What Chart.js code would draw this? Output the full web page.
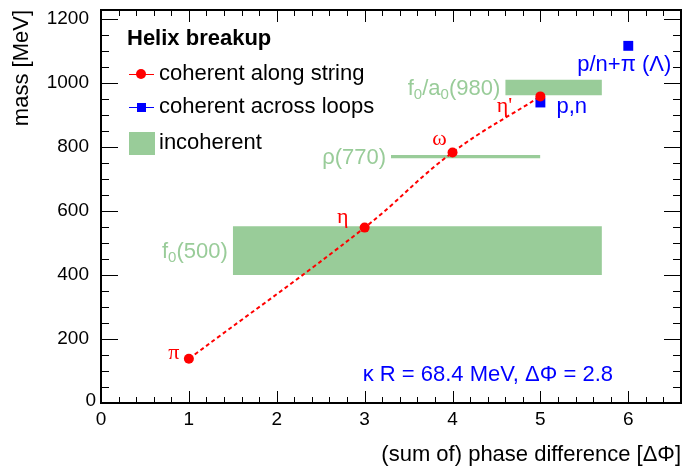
<!DOCTYPE html>
<html>
<head>
<meta charset="utf-8">
<script src="https://cdn.jsdelivr.net/npm/chart.js@4.4.1/dist/chart.umd.min.js"></script>
<style>
  html, body { margin: 0; padding: 0; background: #fff; }
  #wrap { width: 684px; height: 470px; }
</style>
</head>
<body>
<div id="wrap"><canvas id="massChart" width="684" height="470"></canvas></div>
<script>
// coherent along string (red)
const alongNames = ['π', 'η', 'ω', 'η\''];
const alongPhase = [1, 3, 4, 5];
const alongMass = [138, 548, 783, 958];

// coherent across loops (blue)
const loopNames = ['p,n', 'p/n+π (Λ)'];
const loopPhase = [5, 6];
const loopMass = [939, 1116];

// incoherent bands (green)
const bandNames = ['f_0(500)', 'ρ(770)', 'f_0/a_0(980)'];
const bandFrom = [1.5, 3.3, 4.6];
const bandTo = [5.7, 5.0, 5.7];
const bandLow = [400, 765, 962];
const bandHigh = [552, 775, 1010];

const xTicks = [0, 1, 2, 3, 4, 5, 6];
const yTicks = [0, 200, 400, 600, 800, 1000, 1200];
const fitText = 'κ R = 68.4 MeV, ΔΦ = 2.8';

const RED = '#ff0000';
const BLUE = '#0000ff';
const GREEN = '#99cc99';
const SANS = '"Liberation Sans", Arial, sans-serif';
const SERIF = '"Liberation Serif", "Times New Roman", serif';

// draws text with "_x" as subscript
function richWidth(ctx, str, size) {
  let w = 0;
  for (let i = 0; i < str.length; i++) {
    if (str[i] === '_') {
      ctx.font = Math.round(size * 0.7) + 'px ' + SANS;
      w += ctx.measureText(str[i + 1]).width;
      i++;
    } else {
      ctx.font = size + 'px ' + SANS;
      w += ctx.measureText(str[i]).width;
    }
  }
  return w;
}

function drawRich(ctx, str, x, y, size, align) {
  let cx = align === 'right' ? x - richWidth(ctx, str, size) : x;
  ctx.textAlign = 'left';
  ctx.textBaseline = 'middle';
  for (let i = 0; i < str.length; i++) {
    if (str[i] === '_') {
      ctx.font = Math.round(size * 0.7) + 'px ' + SANS;
      ctx.fillText(str[i + 1], cx, y + size * 0.3);
      cx += ctx.measureText(str[i + 1]).width;
      i++;
    } else {
      ctx.font = size + 'px ' + SANS;
      ctx.fillText(str[i], cx, y);
      cx += ctx.measureText(str[i]).width;
    }
  }
}

const bandSets = bandNames.map((n, i) => ({
  label: n,
  data: [{ x: bandFrom[i], y: bandHigh[i] }, { x: bandTo[i], y: bandHigh[i] }],
  borderWidth: 0,
  pointRadius: 0,
  backgroundColor: GREEN,
  fill: { value: bandLow[i] },
  order: 3
}));

const rootFrame = {
  id: 'rootFrame',
  afterDatasetsDraw(chart) {
    const { ctx, chartArea: a, scales: { x, y } } = chart;
    ctx.save();

    // ticks on all four sides, inside the frame
    ctx.strokeStyle = '#000';
    ctx.lineWidth = 1;
    ctx.beginPath();
    for (let i = 0; i <= 33; i++) {
      const px = Math.round(x.getPixelForValue(i * 0.2)) + 0.5;
      if (px > a.right) break;
      const len = i % 5 === 0 ? 12 : 6;
      ctx.moveTo(px, a.bottom); ctx.lineTo(px, a.bottom - len);
      ctx.moveTo(px, a.top); ctx.lineTo(px, a.top + len);
    }
    for (let i = 0; i <= 24; i++) {
      const py = Math.round(y.getPixelForValue(i * 50)) + 0.5;
      const len = i % 4 === 0 ? 17 : 8;
      ctx.moveTo(a.left, py); ctx.lineTo(a.left + len, py);
      ctx.moveTo(a.right, py); ctx.lineTo(a.right - len, py);
    }
    ctx.stroke();
    ctx.lineWidth = 2;
    ctx.strokeRect(a.left, a.top, a.right - a.left, a.bottom - a.top);

    // tick labels
    ctx.fillStyle = '#000';
    ctx.font = '19px ' + SANS;
    ctx.textAlign = 'center';
    ctx.textBaseline = 'top';
    xTicks.forEach(v => ctx.fillText(String(v), x.getPixelForValue(v), a.bottom + 7));
    ctx.textAlign = 'right';
    ctx.textBaseline = 'middle';
    yTicks.forEach(v => {
      if (v === 0) ctx.fillText('0', a.left - 5, y.getPixelForValue(v) - 2);
      else ctx.fillText(String(v), a.left - 12, y.getPixelForValue(v));
    });

    // axis titles
    ctx.font = '22px ' + SANS;
    ctx.textAlign = 'right';
    ctx.textBaseline = 'middle';
    ctx.fillText('(sum of) phase difference [ΔΦ]', 681, 455);
    ctx.save();
    ctx.translate(22, a.top);
    ctx.rotate(-Math.PI / 2);
    ctx.fillText('mass [MeV]', 0, 0);
    ctx.restore();

    // band labels
    ctx.fillStyle = GREEN;
    bandNames.forEach((n, i) => {
      const px = x.getPixelForValue(bandFrom[i]) - 5;
      const py = y.getPixelForValue((bandLow[i] + bandHigh[i]) / 2) + 1;
      drawRich(ctx, n, px, py, 22, 'right');
    });

    // particle labels
    const redOff = [[-15, -6], [-22, -10], [-13, -13], [-36, 10]];
    ctx.fillStyle = RED;
    ctx.font = '22px ' + SERIF;
    ctx.textAlign = 'center';
    ctx.textBaseline = 'middle';
    alongNames.forEach((n, i) => {
      ctx.fillText(n, x.getPixelForValue(alongPhase[i]) + redOff[i][0], y.getPixelForValue(alongMass[i]) + redOff[i][1]);
    });
    const blueOff = [[16, 4], [-51, 19]];
    ctx.fillStyle = BLUE;
    ctx.font = '22px ' + SANS;
    ctx.textAlign = 'left';
    loopNames.forEach((n, i) => {
      ctx.fillText(n, x.getPixelForValue(loopPhase[i]) + blueOff[i][0], y.getPixelForValue(loopMass[i]) + blueOff[i][1]);
    });

    ctx.font = '22px ' + SANS;
    ctx.textAlign = 'right';
    ctx.fillText(fitText, a.right - 68, a.bottom - 28);

    // legend
    ctx.fillStyle = '#000';
    ctx.textAlign = 'left';
    ctx.font = 'bold 22px ' + SANS;
    ctx.fillText('Helix breakup', 127, 39);
    ctx.font = '22px ' + SANS;
    ctx.fillText('coherent along string', 159, 74);
    ctx.fillText('coherent across loops', 159, 107);
    ctx.fillText('incoherent', 159, 143);

    ctx.lineWidth = 1;
    ctx.strokeStyle = RED;
    ctx.beginPath(); ctx.moveTo(129, 74.5); ctx.lineTo(154, 74.5); ctx.stroke();
    ctx.fillStyle = RED;
    ctx.beginPath(); ctx.arc(141, 74, 5, 0, Math.PI * 2); ctx.fill();
    ctx.strokeStyle = BLUE;
    ctx.beginPath(); ctx.moveTo(129, 107.5); ctx.lineTo(154, 107.5); ctx.stroke();
    ctx.fillStyle = BLUE;
    ctx.fillRect(137, 103, 9, 9);
    ctx.fillStyle = GREEN;
    ctx.fillRect(129, 132, 26, 23);

    ctx.restore();
  }
};

new Chart(document.getElementById('massChart'), {
  type: 'line',
  data: {
    datasets: [
      {
        label: 'coherent along string',
        data: alongPhase.map((p, i) => ({ x: p, y: alongMass[i] })),
        borderColor: RED,
        borderWidth: 2,
        borderDash: [4, 3],
        tension: 0.4,
        pointRadius: 5,
        pointBorderWidth: 0,
        pointBackgroundColor: RED,
        fill: false,
        order: 1
      },
      {
        label: 'coherent across loops',
        data: loopPhase.map((p, i) => ({ x: p, y: loopMass[i] })),
        showLine: false,
        pointStyle: 'rect',
        pointRadius: 7,
        pointBorderWidth: 0,
        pointBackgroundColor: BLUE,
        fill: false,
        order: 2
      },
      ...bandSets
    ]
  },
  options: {
    responsive: false,
    animation: false,
    devicePixelRatio: 1,
    layout: { autoPadding: false, padding: { left: 101, right: 3, top: 10, bottom: 67 } },
    plugins: { legend: { display: false }, tooltip: { enabled: false } },
    scales: {
      x: { type: 'linear', min: 0, max: 6.6, display: false },
      y: { type: 'linear', min: 0, max: 1228, display: false }
    }
  },
  plugins: [rootFrame]
});
</script>
</body>
</html>
